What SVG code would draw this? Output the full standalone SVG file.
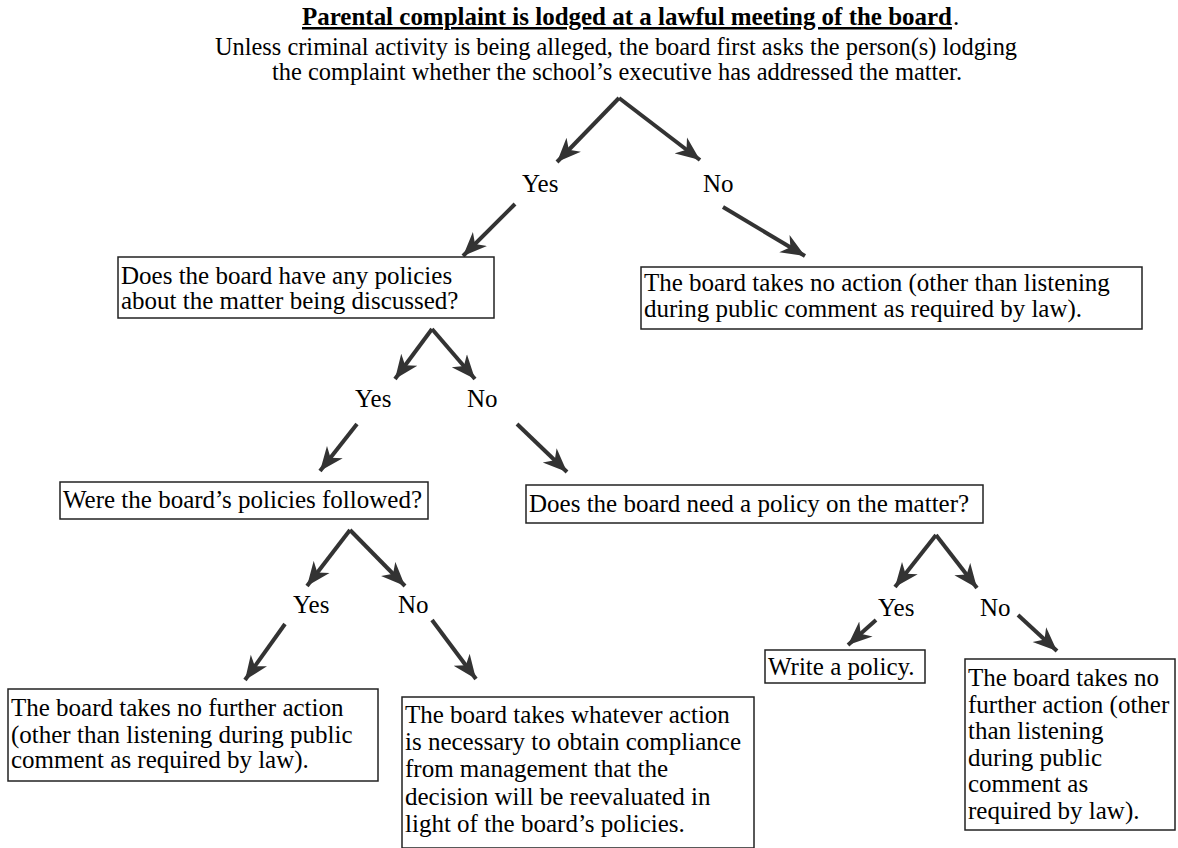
<svg xmlns="http://www.w3.org/2000/svg" width="1178" height="848" viewBox="0 0 1178 848">
<defs>
<marker id="ah" markerUnits="userSpaceOnUse" markerWidth="26" markerHeight="22" refX="24" refY="10" orient="auto" viewBox="0 0 26 20">
<path d="M0,0 L24,10 L0,20 L7,10 z" fill="#333" stroke="none"/>
</marker>
</defs>
<rect width="1178" height="848" fill="#fff"/>
<g id="start">
<text x="302" y="25" font-family="Liberation Serif" font-size="25" font-weight="bold" text-decoration="underline" textLength="650" lengthAdjust="spacingAndGlyphs">Parental complaint is lodged at a lawful meeting of the board</text>
<text x="953" y="25" font-family="Liberation Serif" font-size="25">.</text>
<text x="215" y="55" font-family="Liberation Serif" font-size="25" textLength="802" lengthAdjust="spacingAndGlyphs">Unless criminal activity is being alleged, the board first asks the person(s) lodging</text>
<text x="272" y="80" font-family="Liberation Serif" font-size="25" textLength="690" lengthAdjust="spacingAndGlyphs">the complaint whether the school’s executive has addressed the matter.</text>
</g>
<g id="connectors">
<line x1="619" y1="98" x2="557" y2="162" stroke="#333" stroke-width="4" marker-end="url(#ah)"/>
<line x1="619" y1="98" x2="700" y2="160" stroke="#333" stroke-width="4" marker-end="url(#ah)"/>
<line x1="515" y1="204" x2="463" y2="256" stroke="#333" stroke-width="4" marker-end="url(#ah)"/>
<line x1="723" y1="207" x2="805" y2="256" stroke="#333" stroke-width="4" marker-end="url(#ah)"/>
<line x1="432" y1="329" x2="395" y2="379" stroke="#333" stroke-width="4" marker-end="url(#ah)"/>
<line x1="432" y1="329" x2="475" y2="379" stroke="#333" stroke-width="4" marker-end="url(#ah)"/>
<line x1="357" y1="424" x2="320" y2="471" stroke="#333" stroke-width="4" marker-end="url(#ah)"/>
<line x1="517" y1="424" x2="567" y2="472" stroke="#333" stroke-width="4" marker-end="url(#ah)"/>
<line x1="350" y1="530" x2="307" y2="586" stroke="#333" stroke-width="4" marker-end="url(#ah)"/>
<line x1="350" y1="530" x2="405" y2="586" stroke="#333" stroke-width="4" marker-end="url(#ah)"/>
<line x1="285" y1="624" x2="245" y2="680" stroke="#333" stroke-width="4" marker-end="url(#ah)"/>
<line x1="432" y1="620" x2="476" y2="679" stroke="#333" stroke-width="4" marker-end="url(#ah)"/>
<line x1="936" y1="535" x2="895" y2="587" stroke="#333" stroke-width="4" marker-end="url(#ah)"/>
<line x1="936" y1="535" x2="977" y2="588" stroke="#333" stroke-width="4" marker-end="url(#ah)"/>
<line x1="876" y1="620" x2="848" y2="645" stroke="#333" stroke-width="4" marker-end="url(#ah)"/>
<line x1="1018" y1="615" x2="1057" y2="651" stroke="#333" stroke-width="4" marker-end="url(#ah)"/>
<text x="522" y="192" font-family="Liberation Serif" font-size="25">Yes</text>
<text x="703" y="192" font-family="Liberation Serif" font-size="25">No</text>
<text x="355" y="407" font-family="Liberation Serif" font-size="25">Yes</text>
<text x="467" y="407" font-family="Liberation Serif" font-size="25">No</text>
<text x="293" y="613" font-family="Liberation Serif" font-size="25">Yes</text>
<text x="398" y="613" font-family="Liberation Serif" font-size="25">No</text>
<text x="878" y="616" font-family="Liberation Serif" font-size="25">Yes</text>
<text x="980" y="616" font-family="Liberation Serif" font-size="25">No</text>
</g>
<g id="n1">
<rect x="118" y="257" width="376" height="61" fill="#fff" stroke="#222" stroke-width="1.5"/>
<text x="121" y="284" font-family="Liberation Serif" font-size="25">Does the board have any policies</text>
<text x="121" y="309" font-family="Liberation Serif" font-size="25">about the matter being discussed?</text>
</g>
<g id="n2">
<rect x="641" y="267" width="501" height="62" fill="#fff" stroke="#222" stroke-width="1.5"/>
<text x="644" y="291" font-family="Liberation Serif" font-size="25">The board takes no action (other than listening</text>
<text x="644" y="317" font-family="Liberation Serif" font-size="25">during public comment as required by law).</text>
</g>
<g id="n3">
<rect x="60" y="482" width="368" height="37" fill="#fff" stroke="#222" stroke-width="1.5"/>
<text x="63" y="508" font-family="Liberation Serif" font-size="25">Were the board’s policies followed?</text>
</g>
<g id="n4">
<rect x="526" y="485" width="457" height="38" fill="#fff" stroke="#222" stroke-width="1.5"/>
<text x="529" y="512" font-family="Liberation Serif" font-size="25">Does the board need a policy on the matter?</text>
</g>
<g id="n5">
<rect x="8" y="689" width="370" height="92" fill="#fff" stroke="#222" stroke-width="1.5"/>
<text x="11" y="716" font-family="Liberation Serif" font-size="25">The board takes no further action</text>
<text x="11" y="743" font-family="Liberation Serif" font-size="25">(other than listening during public</text>
<text x="11" y="768" font-family="Liberation Serif" font-size="25">comment as required by law).</text>
</g>
<g id="n6">
<rect x="402" y="697" width="352" height="151" fill="#fff" stroke="#222" stroke-width="1.5"/>
<text x="405" y="723" font-family="Liberation Serif" font-size="25">The board takes whatever action</text>
<text x="405" y="750" font-family="Liberation Serif" font-size="25">is necessary to obtain compliance</text>
<text x="405" y="777" font-family="Liberation Serif" font-size="25">from management that the</text>
<text x="405" y="805" font-family="Liberation Serif" font-size="25">decision will be reevaluated in</text>
<text x="405" y="832" font-family="Liberation Serif" font-size="25">light of the board’s policies.</text>
</g>
<g id="n7">
<rect x="765" y="650" width="160" height="33" fill="#fff" stroke="#222" stroke-width="1.5"/>
<text x="768" y="675" font-family="Liberation Serif" font-size="25">Write a policy.</text>
</g>
<g id="n8">
<rect x="965" y="659" width="210" height="171" fill="#fff" stroke="#222" stroke-width="1.5"/>
<text x="968" y="686" font-family="Liberation Serif" font-size="25">The board takes no</text>
<text x="968" y="713" font-family="Liberation Serif" font-size="25">further action (other</text>
<text x="968" y="739" font-family="Liberation Serif" font-size="25">than listening</text>
<text x="968" y="766" font-family="Liberation Serif" font-size="25">during public</text>
<text x="968" y="792" font-family="Liberation Serif" font-size="25">comment as</text>
<text x="968" y="819" font-family="Liberation Serif" font-size="25">required by law).</text>
</g>
</svg>
